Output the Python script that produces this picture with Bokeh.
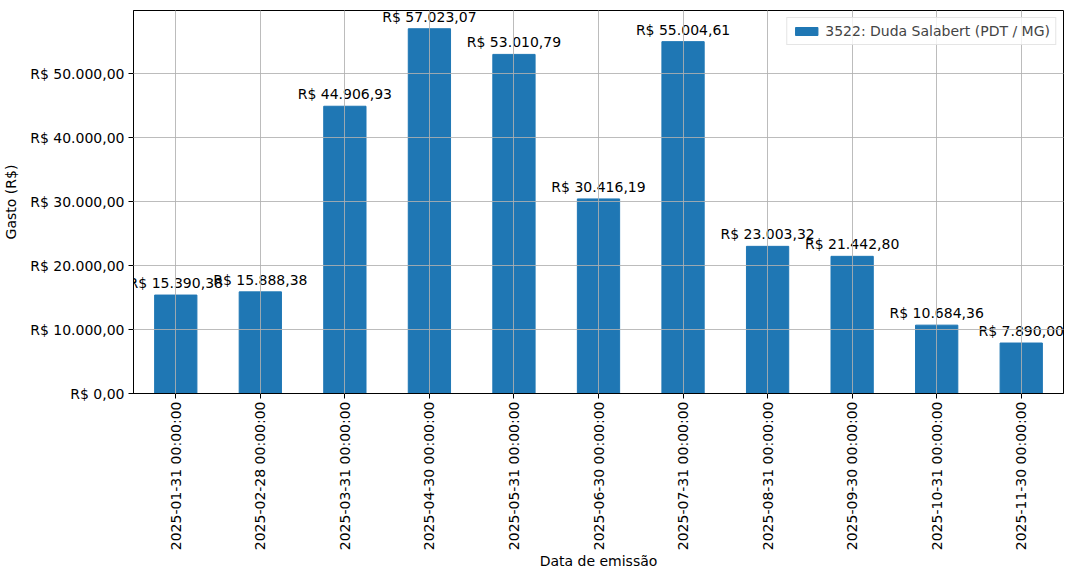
import math
from bokeh.models import ColumnDataSource, FactorRange, Range1d, FixedTicker, Legend, LegendItem
from bokeh.plotting import figure
from bokeh.core.properties import value
from bokeh.embed import file_html
from bokeh.resources import INLINE

datas = ['2025-01-31 00:00:00', '2025-02-28 00:00:00', '2025-03-31 00:00:00',
         '2025-04-30 00:00:00', '2025-05-31 00:00:00', '2025-06-30 00:00:00',
         '2025-07-31 00:00:00', '2025-08-31 00:00:00', '2025-09-30 00:00:00',
         '2025-10-31 00:00:00', '2025-11-30 00:00:00']
gastos = [15390.38, 15888.38, 44906.93, 57023.07, 53010.79, 30416.19,
          55004.61, 23003.32, 21442.80, 10684.36, 7890.00]
yticks = [0, 10000, 20000, 30000, 40000, 50000]
serie = '3522: Duda Salabert (PDT / MG)'


def brl(v):
    s = '{:,.2f}'.format(v).replace(',', 'X').replace('.', ',').replace('X', '.')
    return 'R$ ' + s


src = ColumnDataSource(dict(x=datas, y=gastos, label=[brl(v) for v in gastos]))

FONT = 'DejaVu Sans'
FS = '14px'
p = figure(width=1064, height=572, x_range=FactorRange(*datas, range_padding=0),
           y_range=Range1d(0, max(gastos) * 1.05), output_backend='svg',
           toolbar_location=None, min_border_left=133, min_border_top=10,
           min_border_right=1, min_border_bottom=177)

bars = p.vbar(x='x', top='y', width=0.5, source=src, color='#1f77b4')
p.text(x='x', y='y', text='label', source=src, text_align='center',
       text_baseline='bottom', y_offset=-4, text_font=value(FONT),
       text_font_size=FS, text_color='black')

p.grid.grid_line_color = '#b0b0b0'
p.grid.grid_line_alpha = 0.85
p.grid.level = 'overlay'
p.outline_line_color = 'black'
p.outline_line_alpha = 1

p.yaxis.ticker = FixedTicker(ticks=yticks)
p.yaxis.major_label_overrides = {t: brl(t) for t in yticks}
p.yaxis.minor_tick_line_color = None
p.xaxis.major_label_orientation = math.pi / 2
for ax in (p.xaxis, p.yaxis):
    ax.major_label_text_font = FONT
    ax.major_label_text_font_size = FS
    ax.major_label_text_color = 'black'
    ax.axis_label_text_font = FONT
    ax.axis_label_text_font_size = FS
    ax.axis_label_text_font_style = 'normal'
    ax.axis_label_text_color = 'black'
    ax.axis_line_color = 'black'
    ax.major_tick_line_color = 'black'
    ax.major_tick_out = 5
    ax.major_tick_in = 0
    ax.major_label_standoff = 4
p.xaxis.major_label_standoff = 3
p.xaxis.axis_label = 'Data de emissão'
p.yaxis.axis_label = 'Gasto (R$)'
p.yaxis.axis_label_standoff = 8
p.xaxis.axis_label_standoff = 0

legend = Legend(items=[LegendItem(label=serie, renderers=[bars])],
                location='top_right', label_text_font=FONT,
                label_text_font_size=FS, border_line_color='#cccccc',
                background_fill_alpha=0.8, glyph_width=28, glyph_height=10,
                margin=7, padding=5, spacing=0)
p.add_layout(legend)

open('out.html', 'w').write(file_html(p, INLINE))
